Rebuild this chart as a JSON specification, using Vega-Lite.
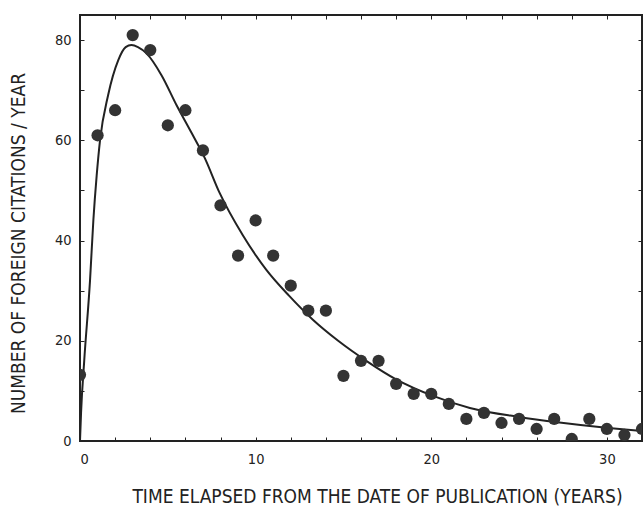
{
  "$schema": "https://vega.github.io/schema/vega-lite/v6.json",
  "width": 562,
  "height": 426,
  "autosize": "none",
  "padding": {"left": 80, "top": 15, "right": 1, "bottom": 65},
  "background": "white",
  "config": {
    "view": {"stroke": "#222", "strokeWidth": 2},
    "axis": {"grid": false, "domain": false, "labelFont": "'DejaVu Sans Condensed', 'Liberation Sans', sans-serif", "titleFont": "'DejaVu Sans Condensed', 'Liberation Sans', sans-serif", "labelColor": "#222", "titleColor": "#222", "tickColor": "#222", "labelFontSize": 14.5, "titleFontSize": 19, "titleFontWeight": "normal"}
  },
  "datasets": {
    "points": [
      {"t": 0, "c": 13.2}, {"t": 1, "c": 61}, {"t": 2, "c": 66}, {"t": 3, "c": 81}, {"t": 4, "c": 78},
      {"t": 5, "c": 63}, {"t": 6, "c": 66}, {"t": 7, "c": 58}, {"t": 8, "c": 47}, {"t": 9, "c": 37},
      {"t": 10, "c": 44}, {"t": 11, "c": 37}, {"t": 12, "c": 31}, {"t": 13, "c": 26}, {"t": 14, "c": 26},
      {"t": 15, "c": 13}, {"t": 16, "c": 16}, {"t": 17, "c": 16}, {"t": 18, "c": 11.4}, {"t": 19, "c": 9.4},
      {"t": 20, "c": 9.4}, {"t": 21, "c": 7.4}, {"t": 22, "c": 4.4}, {"t": 23, "c": 5.6}, {"t": 24, "c": 3.6},
      {"t": 25, "c": 4.4}, {"t": 26, "c": 2.4}, {"t": 27, "c": 4.4}, {"t": 28, "c": 0.4}, {"t": 29, "c": 4.4},
      {"t": 30, "c": 2.4}, {"t": 31, "c": 1.2}, {"t": 32, "c": 2.4}
    ],
    "curve": [
      {"t": 0, "c": 0}, {"t": 0.06, "c": 5.6}, {"t": 0.24, "c": 16}, {"t": 0.57, "c": 32}, {"t": 0.76, "c": 44},
      {"t": 0.95, "c": 53}, {"t": 1.14, "c": 60}, {"t": 1.6, "c": 69}, {"t": 2.18, "c": 76}, {"t": 2.6, "c": 78.6},
      {"t": 2.93, "c": 79}, {"t": 3.3, "c": 78.6}, {"t": 3.8, "c": 77.3}, {"t": 4.64, "c": 73}, {"t": 5.5, "c": 67},
      {"t": 6.35, "c": 61.5}, {"t": 7.1, "c": 56.5}, {"t": 7.95, "c": 49.5}, {"t": 9.28, "c": 41}, {"t": 10.6, "c": 34.2},
      {"t": 11.9, "c": 29}, {"t": 13.26, "c": 24.2}, {"t": 14.7, "c": 20}, {"t": 16.3, "c": 16}, {"t": 18, "c": 12.3},
      {"t": 20.1, "c": 9}, {"t": 22.2, "c": 6.6}, {"t": 25, "c": 4.8}, {"t": 27.3, "c": 3.7}, {"t": 30.1, "c": 2.6},
      {"t": 32, "c": 2}
    ]
  },
  "layer": [
    {
      "data": {"name": "curve"},
      "mark": {"type": "line", "interpolate": "monotone", "color": "#222", "strokeWidth": 2, "clip": true},
      "encoding": {
        "x": {"field": "t", "type": "quantitative", "scale": {"domain": [0, 32], "nice": false},
          "axis": {"orient": "bottom", "values": [0,2,4,6,8,10,12,14,16,18,20,22,24,26,28,30,32], "labelExpr": "datum.value % 10 == 0 ? datum.label : ''", "tickSize": -4, "labelPadding": 15, "title": "TIME ELAPSED FROM THE DATE OF PUBLICATION (YEARS)", "titleX": 297, "titleY": 55, "titleBaseline": "middle", "titleAlign": "center"}},
        "y": {"field": "c", "type": "quantitative", "scale": {"domain": [0, 85], "nice": false},
          "axis": {"orient": "left", "values": [0,10,20,30,40,50,60,70,80], "labelExpr": "datum.value % 20 == 0 ? datum.label : ''", "tickSize": -4, "labelPadding": 13, "title": "NUMBER OF FOREIGN CITATIONS / YEAR", "titleAngle": -90, "titleX": -62, "titleY": 228, "titleAlign": "center", "titleBaseline": "middle"}}
      }
    },
    {
      "data": {"name": "points"},
      "mark": {"type": "circle", "color": "#333", "opacity": 1, "size": 150, "clip": true},
      "encoding": {
        "x": {"field": "t", "type": "quantitative", "axis": {"orient": "top", "values": [0,2,4,6,8,10,12,14,16,18,20,22,24,26,28,30,32], "labels": false, "tickSize": -4, "title": null}},
        "y": {"field": "c", "type": "quantitative", "axis": {"orient": "right", "values": [0,10,20,30,40,50,60,70,80], "labels": false, "tickSize": -4, "title": null}}
      }
    }
  ],
  "resolve": {"axis": {"x": "independent", "y": "independent"}}
}
